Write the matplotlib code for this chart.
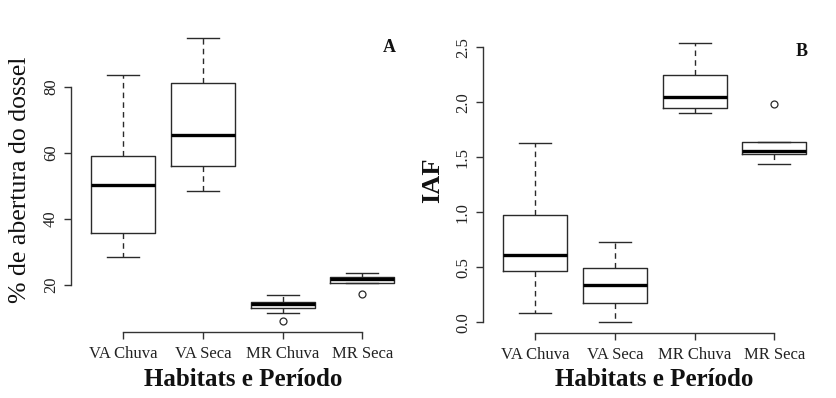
import matplotlib
matplotlib.use("Agg")
import matplotlib.pyplot as plt

categories = ["VA Chuva", "VA Seca", "MR Chuva", "MR Seca"]

# Panel A: % de abertura do dossel (whislo, q1, med, q3, whishi, outliers)
a_whislo = [28.4, 48.5, 11.4, 20.5]
a_q1 = [35.7, 55.9, 13.1, 20.5]
a_med = [50.3, 65.5, 14.15, 21.8]
a_q3 = [59.2, 81.1, 14.85, 22.5]
a_whishi = [83.8, 94.8, 16.8, 23.7]
a_fliers = [[], [], [9.1], [17.1]]
a_yticks = [20, 40, 60, 80]

# Panel B: IAF
b_whislo = [0.087, 0.005, 1.90, 1.439]
b_q1 = [0.469, 0.173, 1.948, 1.533]
b_med = [0.609, 0.339, 2.051, 1.555]
b_q3 = [0.978, 0.491, 2.248, 1.639]
b_whishi = [1.63, 0.733, 2.542, 1.639]
b_fliers = [[], [], [], [1.987]]
b_yticks = [0.0, 0.5, 1.0, 1.5, 2.0, 2.5]
b_yticklabels = ["0.0", "0.5", "1.0", "1.5", "2.0", "2.5"]

plt.rcParams['font.family'] = ['Liberation Serif', 'DejaVu Serif']

W, H = 837, 398
fig = plt.figure(figsize=(W / 100, H / 100), dpi=100)


def make_axes(left, right, top, bottom):
    return fig.add_axes([left / W, 1 - bottom / H, (right - left) / W, (bottom - top) / H])


def draw_panel(ax, whislo, q1, med, q3, whishi, fliers, yticks, yticklabels):
    stats = []
    for i in range(len(categories)):
        stats.append(dict(whislo=whislo[i], q1=q1[i], med=med[i], q3=q3[i],
                          whishi=whishi[i], fliers=fliers[i], label=categories[i]))
    col = "#2a2a2a"
    ax.bxp(stats, positions=range(1, len(categories) + 1), widths=0.8,
           showfliers=True,
           boxprops=dict(color=col, linewidth=1.0),
           medianprops=dict(color="black", linewidth=2.4, solid_capstyle="butt"),
           whiskerprops=dict(color=col, linewidth=1.0, linestyle=(0, (4, 3))),
           capprops=dict(color=col, linewidth=1.0),
           capwidths=0.4,
           flierprops=dict(marker="o", markersize=5, markerfacecolor="none",
                           markeredgecolor=col, markeredgewidth=0.9))
    allv = [v for lst in (whislo, whishi) for v in lst] + [v for f in fliers for v in f]
    lo, hi = min(allv), max(allv)
    ext = 0.04 * (hi - lo)
    ax.set_ylim(lo - ext, hi + ext)
    ax.set_xlim(0.5 - 0.04 * 4, 4.5 + 0.04 * 4)
    for s in ["top", "right"]:
        ax.spines[s].set_visible(False)
    ax.spines["left"].set_bounds(yticks[0], yticks[-1])
    ax.spines["bottom"].set_bounds(1, len(categories))
    for s in ["left", "bottom"]:
        ax.spines[s].set_color("#333333")
        ax.spines[s].set_linewidth(1.0)
    ax.set_yticks(yticks)
    ax.set_yticklabels(yticklabels, rotation=90, va="center", fontsize=12)
    ax.set_xticks(range(1, len(categories) + 1))
    ax.set_xticklabels(categories, fontsize=12)
    ax.tick_params(axis="both", length=5, width=1.0, color="#333333", labelcolor="#222222")
    ax.tick_params(axis="x", pad=5.0)
    ax.tick_params(axis="y", pad=3.5)
    ax.patch.set_visible(False)
    return ax


# Panel A
axA = make_axes(70.7, 414.9, 27, 332)
draw_panel(axA, a_whislo, a_q1, a_med, a_q3, a_whishi, a_fliers, a_yticks,
           [str(t) for t in a_yticks])
fig.text(20 / W, 1 - 179.5 / H, "% de abertura do dossel", rotation=90,
         ha="center", va="center", fontsize=18.5, color="#111111")
fig.text(243 / W, 1 - 380 / H, "Habitats e Período", ha="center", va="center",
         fontsize=18, fontweight="bold", color="#111111")
fig.text(389 / W, 1 - 47.7 / H, "A", ha="center", va="center",
         fontsize=13, fontweight="bold", color="#111111")

# Panel B
axB = make_axes(482.7, 826.9, 31.5, 333)
draw_panel(axB, b_whislo, b_q1, b_med, b_q3, b_whishi, b_fliers, b_yticks,
           b_yticklabels)
fig.text(433 / W, 1 - 180 / H, "IAF", rotation=90, ha="center", va="center",
         fontsize=19, fontweight="bold", color="#111111")
fig.text(654 / W, 1 - 380 / H, "Habitats e Período", ha="center", va="center",
         fontsize=18, fontweight="bold", color="#111111")
fig.text(802 / W, 1 - 51.7 / H, "B", ha="center", va="center",
         fontsize=13, fontweight="bold", color="#111111")

fig.savefig("out.png", dpi=100, facecolor="white")
